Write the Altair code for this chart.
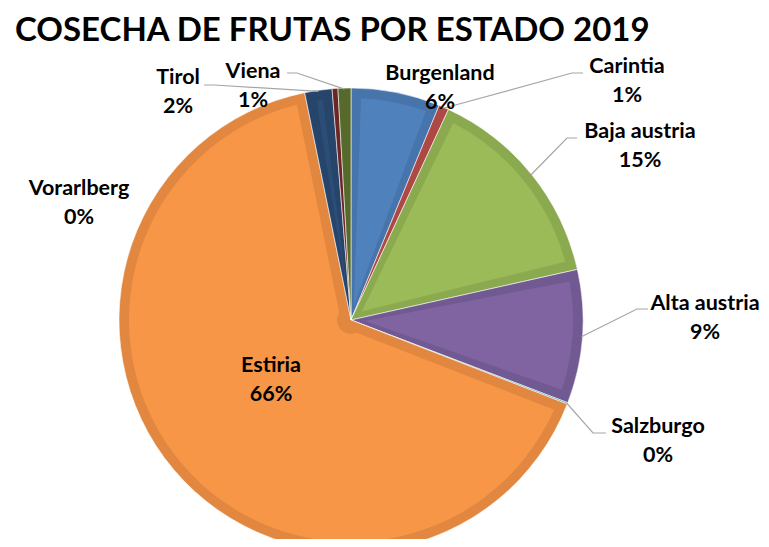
import altair as alt
import pandas as pd
import numpy as np

# ---------------- data ----------------
titulo = "COSECHA DE FRUTAS POR ESTADO 2019"
estados = ["Burgenland", "Carintia", "Baja austria", "Alta austria", "Salzburgo",
           "Estiria", "Tirol", "Vorarlberg", "Viena"]
valores = [6.2, 0.7, 14.6, 9.3, 0.1, 65.9, 1.9, 0.4, 0.9]

# ---------------- styles ----------------
colores = ["#4F81BD", "#C0504D", "#9BBB59", "#8064A2", "#4BACC6",
           "#F79646", "#2C4D75", "#772C2A", "#5F7530"]
bordes = ["#4674AB", "#AD4845", "#8BAA4F", "#715992", "#43A0B8",
          "#E2873F", "#27456A", "#6A2725", "#556A2B"]
FONT = "Lato"

# ---------------- layout ----------------
PAD_TOP = 16
W, H = 753, 531 - PAD_TOP
OX, OY = 8, 8 + PAD_TOP          # window offset of the plot origin


def px(wx):
    return wx - OX


def py(wy):
    return wy - OY


CX, CY, R = px(351), py(320), 232
BAND = 10
# label anchor in window coords (center x, first-line baseline y)
label_pos = {
    "Burgenland": (440, 80), "Carintia": (627, 73), "Baja austria": (640, 138),
    "Alta austria": (705, 310), "Salzburgo": (658, 433), "Estiria": (271, 372),
    "Vorarlberg": (79, 195), "Tirol": (178, 84), "Viena": (253, 78),
}
# leader line: elbow, end (near label), window coords
leader_pts = {
    "Carintia": [(572, 73), (583, 73)],
    "Baja austria": [(567, 138), (577, 138)],
    "Alta austria": [(637, 309), (648, 309)],
    "Salzburgo": [(593, 433), (606, 433)],
    "Tirol": [(214, 85), (204, 85)],
    "Viena": [(297, 73), (287, 73)],
}

total = sum(valores)
df = pd.DataFrame({
    "estado": estados,
    "valor": valores,
    "idx": list(range(len(estados))),
})
df["pct"] = [f"{round(v / total * 100):.0f}%" for v in valores]

lab = pd.DataFrame({
    "estado": estados,
    "texto": [f"{e}\n{p}" for e, p in zip(estados, df["pct"])],
    "lx": [px(label_pos[e][0]) for e in estados],
    "ly": [py(label_pos[e][1]) for e in estados],
})

# leader lines start at the slice edge, at the slice's mid angle (from data)
cum = np.cumsum([0] + valores) / total
rows = []
for i, e in enumerate(estados):
    if e not in leader_pts:
        continue
    mid = (cum[i] + cum[i + 1]) / 2 * 2 * np.pi
    sx = CX + (R - 1) * np.sin(mid)
    sy = CY - (R - 1) * np.cos(mid)
    pts = [(sx, sy)] + [(px(a), py(b)) for a, b in leader_pts[e]]
    for k, (qx, qy) in enumerate(pts):
        rows.append({"estado": e, "k": k, "qx": qx, "qy": qy})
lead = pd.DataFrame(rows)

theta = alt.Theta("valor:Q", stack=True)
order = alt.Order("idx:Q")

outer = alt.Chart(df).mark_arc(
    outerRadius=R, stroke="#ffffff", strokeWidth=0.8, strokeOpacity=0.7
).encode(
    theta=theta,
    color=alt.Color("estado:N", scale=alt.Scale(domain=estados, range=bordes), legend=None),
    order=order,
    x=alt.value(CX), y=alt.value(CY),
)

inner = alt.Chart(df).mark_arc(
    outerRadius=R - BAND, innerRadius=14, padAngle=0.09
).encode(
    theta=theta,
    color=alt.Color("estado:N", scale=alt.Scale(domain=estados, range=colores), legend=None),
    order=order,
    x=alt.value(CX), y=alt.value(CY),
)

pie = alt.layer(outer, inner).resolve_scale(color="independent")

leaders = alt.Chart(lead).mark_line(color="#A6A6A6", strokeWidth=1.2).encode(
    x=alt.X("qx:Q", scale=None),
    y=alt.Y("qy:Q", scale=None),
    detail="estado:N",
    order="k:Q",
)

labels = alt.Chart(lab).mark_text(
    font=FONT, fontWeight="bold", fontSize=21.5, align="center", baseline="alphabetic",
    lineBreak="\n", lineHeight=29, color="#000000",
).encode(
    x=alt.X("lx:Q", scale=None),
    y=alt.Y("ly:Q", scale=None),
    text="texto:N",
)

title = alt.Chart(pd.DataFrame({"t": [titulo]})).mark_text(
    font=FONT, fontWeight="bold", fontSize=33, align="left", baseline="alphabetic",
    color="#000000",
).encode(x=alt.value(px(15)), y=alt.value(py(41)), text="t:N")

chart = alt.layer(pie, leaders, labels, title).properties(
    width=W, height=H,
    padding={"left": 0, "top": PAD_TOP, "right": 0, "bottom": 0},
    autosize=alt.AutoSizeParams(type="none"),
    background="#ffffff",
).configure_view(stroke=None)

chart.save("out.html", embed_options={"renderer": "svg", "actions": False})
